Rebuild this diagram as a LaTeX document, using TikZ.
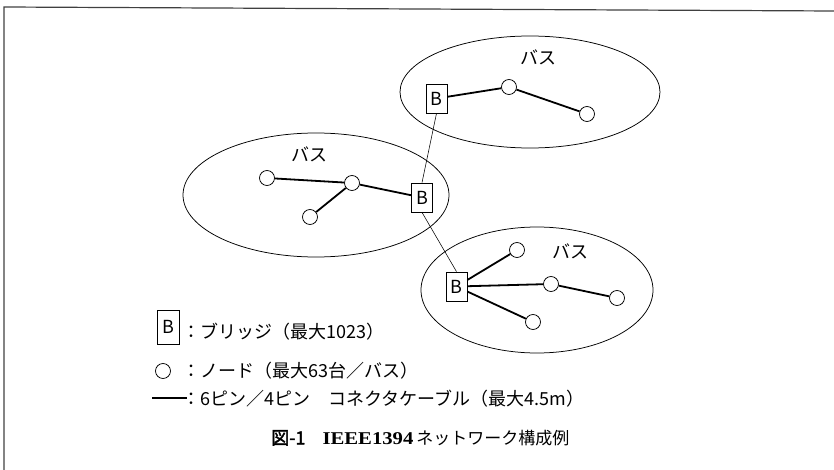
\documentclass[tikz,border=0pt]{standalone}
\usepackage{fontspec}
\newfontfamily\jp{Noto Sans CJK JP}
\newfontfamily\jpbold[FakeBold=2]{Noto Sans CJK JP}
\newfontfamily\capserif[FakeStretch=1.15]{Liberation Serif}
\begin{document}
\begin{tikzpicture}[x=1pt,y=-1pt,
  every node/.style={font=\jp\fontsize{18}{21}\selectfont},
  bbox/.style={draw,line width=0.75pt,minimum width=21pt,minimum height=29pt,inner sep=0pt},
  nodec/.style={draw,circle,line width=0.75pt,minimum size=15pt,inner sep=0pt},
  cable/.style={line width=1.8pt},
  link/.style={line width=0.55pt},
  bus/.style={line width=0.75pt},
  legtext/.style={anchor=west,inner sep=0pt}]
\useasboundingbox (0,0) rectangle (834,470);
\draw[line width=1.2pt,black!75] (4,470) -- (4,7) -- (834,11);

% buses
\draw[bus] (530,92) ellipse [x radius=130,y radius=56];
\draw[bus] (316,195) ellipse [x radius=133,y radius=62];
\draw[bus] (537,290) ellipse [x radius=116,y radius=63];
\node (busA) at (538,57) {バス};
\node (busB) at (309,154) {バス};
\node (busC) at (570,251) {バス};

% top bus
\node[bbox] (bA) at (436.5,98.5) {B};
\node[nodec] (a1) at (509,87) {};
\node[nodec] (a2) at (587,114) {};
\draw[cable] (bA) -- (a1);
\draw[cable] (a1) -- (a2);

% middle bus
\node[bbox] (bB) at (422,197.5) {B};
\node[nodec] (m1) at (267,178) {};
\node[nodec] (m2) at (352,183) {};
\node[nodec] (m3) at (310,217) {};
\draw[cable] (m1) -- (m2);
\draw[cable] (m2) -- (bB);
\draw[cable] (m2) -- (m3);

% bottom bus
\node[bbox] (bC) at (456.5,286.5) {B};
\node[nodec] (c1) at (517,250) {};
\node[nodec] (c2) at (551,284) {};
\node[nodec] (c3) at (617,298) {};
\node[nodec] (c4) at (533,322) {};
\draw[cable] (bC) -- (c1);
\draw[cable] (bC) -- (c2);
\draw[cable] (c2) -- (c3);
\draw[cable] (bC) -- (c4);

% bridge links
\draw[link] (bA.south) -- (bB.north);
\draw[link] (bB.south) -- (bC.north);

% legend
\node[bbox,minimum height=34pt,minimum width=22pt] (lgB) at (168,327) {B};
\node[legtext] (lgBt) at (182,332) {：ブリッジ（最大1023）};
\node[nodec] (lgN) at (163,371) {};
\node[legtext] (lgNt) at (182,371) {：ノード（最大63台／バス）};
\coordinate (lgL1) at (152,398);
\coordinate (lgL2) at (187,398);
\draw[cable] (lgL1) -- (lgL2);
\node[legtext] (lgLt) at (182,399) {：6ピン／4ピン　コネクタケーブル（最大4.5m）};

% caption
\node[anchor=west,inner sep=0pt] (cap) at (271,438) {{\jpbold 図-1}\hspace{0.95em}{\capserif\bfseries IEEE1394}\,{\fontsize{17}{20}\selectfont ネットワーク構成例}};
\end{tikzpicture}
\end{document}
